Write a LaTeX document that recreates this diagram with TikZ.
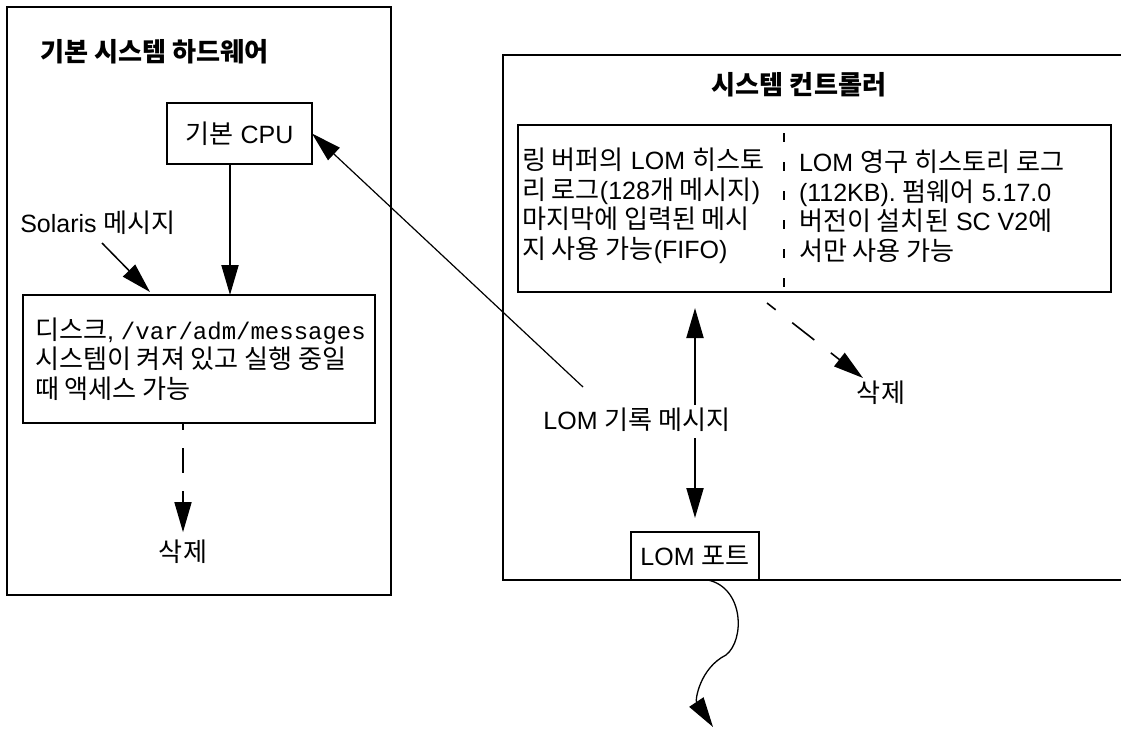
\documentclass[tikz,border=0pt]{standalone}
\usepackage{fontspec}
\setmainfont{Liberation Sans}
\setmonofont{Liberation Mono}
\newfontfamily\krfont[Scale=1.045]{Noto Sans CJK KR}
\newcommand\hg[1]{{\krfont #1}}
\usetikzlibrary{arrows.meta,calc}
\begin{document}
\begin{tikzpicture}[x=1pt,y=-1pt,
  font=\fontsize{25}{29.5}\selectfont,
  box/.style={draw, line width=2.3pt, inner sep=0pt, outer sep=0pt, anchor=north west},
  txt/.style={inner sep=0pt, outer sep=0pt, align=left},
  head/.style={-{Triangle[length=30pt,width=17pt]}},
  big/.style={line width=2pt, head},
  thinarr/.style={line width=1.2pt, head},
  dasharr/.style={line width=1.6pt, head}
]
\useasboundingbox (0,0) rectangle (1121,729);

% left outer box
\node[box, minimum width=384pt, minimum height=588pt] (hw) at (7,7) {};
\node[txt, anchor=west, font=\fontsize{25}{29.5}\selectfont\bfseries] (hwtitle) at (40,52) {\hg{기본 시스템 하드웨어}};

\node[box, minimum width=145pt, minimum height=61pt] (cpu) at (167,103) {};
\node[txt] (cputxt) at (cpu.center) {\hg{기본} CPU};

\node[box, minimum width=352pt, minimum height=128pt] (disk) at (23,295) {};
\node[txt, anchor=west] (disktxt) at ([xshift=12pt]disk.west)
  {\hg{디스크}, {\fontsize{24}{29.5}\selectfont\texttt{/var/adm/messages}}\\\hg{시스템이 켜져 있고 실행 중일}\\\hg{때 액세스 가능}};

\node[txt] (sol) at (98,223) {Solaris \hg{메시지}};
\node[txt] (del1) at (183,552) {\hg{삭제}};

% right outer box (open to the right)
\coordinate (scne) at (1121,55);
\coordinate (scnw) at (503,55);
\coordinate (scsw) at (503,580);
\coordinate (scse) at (1121,580);
\draw[line width=2.3pt] (scne) -- (scnw) -- (scsw) -- (scse);
\node[txt, font=\fontsize{25}{29.5}\selectfont\bfseries] (sctitle) at (799,85) {\hg{시스템 컨트롤러}};

\node[box, minimum width=593pt, minimum height=167pt] (inner) at (518,125) {};
\coordinate (divtop) at (784,125);
\coordinate (divbot) at (784,292);
\draw[line width=2pt, dash pattern=on 9pt off 20pt, dash phase=-8pt] (divtop) -- (divbot);

\node[txt, anchor=west] (ringtxt) at (522,206)
  {\hg{링 버퍼의} LOM \hg{히스토}\\\hg{리 로그}(128\hg{개 메시지})\\\hg{마지막에 입력된 메시}\\\hg{지 사용 가능}(FIFO)};
\node[txt, anchor=west] (permtxt) at (799,206)
  {LOM \hg{영구 히스토리 로그}\\(112KB). \hg{펌웨어} 5.17.0\\\hg{버전이 설치된} SC V2\hg{에}\\\hg{서만 사용 가능}};

\node[box, minimum width=128pt, minimum height=48pt] (port) at (631,532) {};
\node[txt] (porttxt) at (port.center) {LOM \hg{포트}};

\node[txt] (lbl) at (637,420) {LOM \hg{기록 메시지}};
\node[txt] (del2) at (881,393) {\hg{삭제}};

% connectors
\draw[big] ([xshift=-9.5pt]cpu.south) -- ([xshift=-9.5pt]cpu.south |- disk.north);

\coordinate (solstart) at (102,243);
\coordinate (solend) at (150,292);
\draw[thinarr, line width=1.5pt] (solstart) -- (solend);

\draw[dasharr, dash pattern=on 25pt off 18pt, dash phase=18pt, shorten >=8pt]
  (disk.south -| del1.north) -- (del1.north);

\coordinate (lomstart) at (583,387);
\draw[thinarr] (lomstart) -- (cpu.east);

\draw[big] ($(lbl.center -| port.north)+(0,-15)$) -- ([yshift=-16pt]inner.south -| port.north);
\draw[big] ($(lbl.center -| port.north)+(0,18)$) -- ([yshift=14pt]port.north);

\coordinate (delstart) at (767,303);
\coordinate (delend) at (863,378);
\draw[dasharr, dash pattern=on 28pt off 21pt, dash phase=17pt] (delstart) -- (delend);

\coordinate (outend) at (713,727);
\draw[line width=1.3pt, head] ([xshift=13pt]port.south)
  .. controls (744,588) and (745,640) .. (726,655)
  .. controls (700,668) and (695,700) .. (outend);
\end{tikzpicture}
\end{document}
